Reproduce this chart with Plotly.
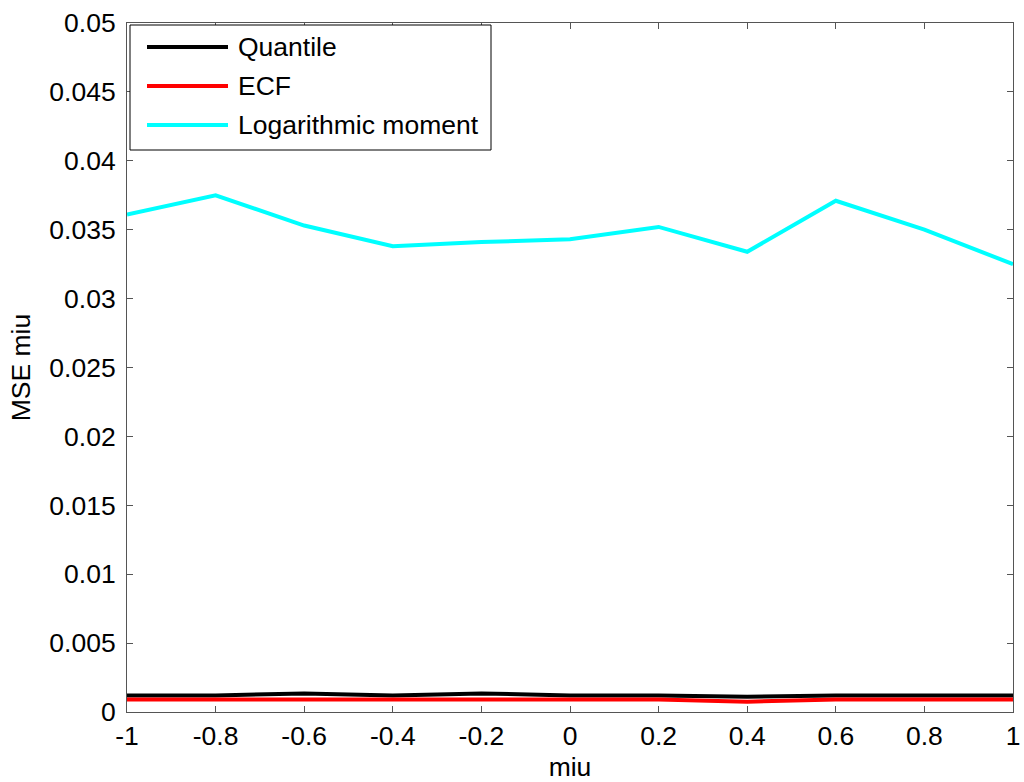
import plotly.graph_objects as go

miu = [-1, -0.8, -0.6, -0.4, -0.2, 0, 0.2, 0.4, 0.6, 0.8, 1]
quantile = [0.0012, 0.0012, 0.00135, 0.0012, 0.00135, 0.0012, 0.0012, 0.0011, 0.0012, 0.0012, 0.0012]
ecf = [0.0009, 0.0009, 0.0009, 0.0009, 0.0009, 0.0009, 0.0009, 0.00075, 0.0009, 0.0009, 0.0009]
logmoment = [0.0361, 0.0375, 0.0353, 0.0338, 0.0341, 0.0343, 0.0352, 0.0334, 0.0371, 0.0350, 0.0325]

series_names = ["Quantile", "ECF", "Logarithmic moment"]
series_colors = ["black", "red", "cyan"]

x_ticks = [-1, -0.8, -0.6, -0.4, -0.2, 0, 0.2, 0.4, 0.6, 0.8, 1]
x_labels = ["-1", "-0.8", "-0.6", "-0.4", "-0.2", "0", "0.2", "0.4", "0.6", "0.8", "1"]
y_ticks = [0, 0.005, 0.01, 0.015, 0.02, 0.025, 0.03, 0.035, 0.04, 0.045, 0.05]
y_labels = ["0", "0.005", "0.01", "0.015", "0.02", "0.025", "0.03", "0.035", "0.04", "0.045", "0.05"]

W, H = 1024, 782
PL, PR, PT, PB = 127, 1013, 23, 712  # plot area in page pixels


def px(xp):
    return (xp - PL) / (PR - PL)


def py(yp):
    return (PB - yp) / (PB - PT)


fig = go.Figure()
for name, ys, col in zip(series_names, [quantile, ecf, logmoment], series_colors):
    fig.add_trace(go.Scatter(x=miu, y=ys, mode="lines", name=name,
                             line=dict(color=col, width=4), showlegend=False))

font = dict(family="Liberation Sans, Arial, sans-serif", size=26.5, color="black")
axis_common = dict(showgrid=False, zeroline=False, showline=True, linecolor="#555",
                   linewidth=1, mirror="ticks", ticks="inside", ticklen=6,
                   tickcolor="#555", tickfont=font, automargin=False)

# legend drawn in the MATLAB style
shapes = [dict(type="rect", xref="paper", yref="paper",
               x0=px(130), x1=px(491), y0=py(150), y1=py(25),
               line=dict(color="black", width=1), fillcolor="white", layer="above")]
annotations = []
leg_y = [47, 86, 125]
for name, col, ly in zip(series_names, series_colors, leg_y):
    shapes.append(dict(type="line", xref="paper", yref="paper",
                       x0=px(147), x1=px(228), y0=py(ly), y1=py(ly),
                       line=dict(color=col, width=4), layer="above"))
    annotations.append(dict(text=name, xref="paper", yref="paper",
                            x=px(236), y=py(ly), xanchor="left", yanchor="middle",
                            showarrow=False, font=font))

fig.update_layout(
    width=W, height=H,
    margin=dict(l=PL, r=W - PR, t=PT, b=H - PB),
    paper_bgcolor="white", plot_bgcolor="white",
    font=font,
    xaxis=dict(range=[-1, 1], tickvals=x_ticks, ticktext=x_labels, ticklabelstandoff=0,
               title=dict(text="miu", font=font, standoff=18), **axis_common),
    yaxis=dict(range=[0, 0.05], tickvals=y_ticks, ticktext=y_labels, ticklabelstandoff=5,
               title=dict(text="MSE miu", font=font, standoff=11), **axis_common),
    shapes=shapes,
    annotations=annotations,
    showlegend=False,
)

fig.write_html("out.html", config={"displayModeBar": False},
               post_script="document.body.style.margin='0';document.body.style.overflow='hidden';")
